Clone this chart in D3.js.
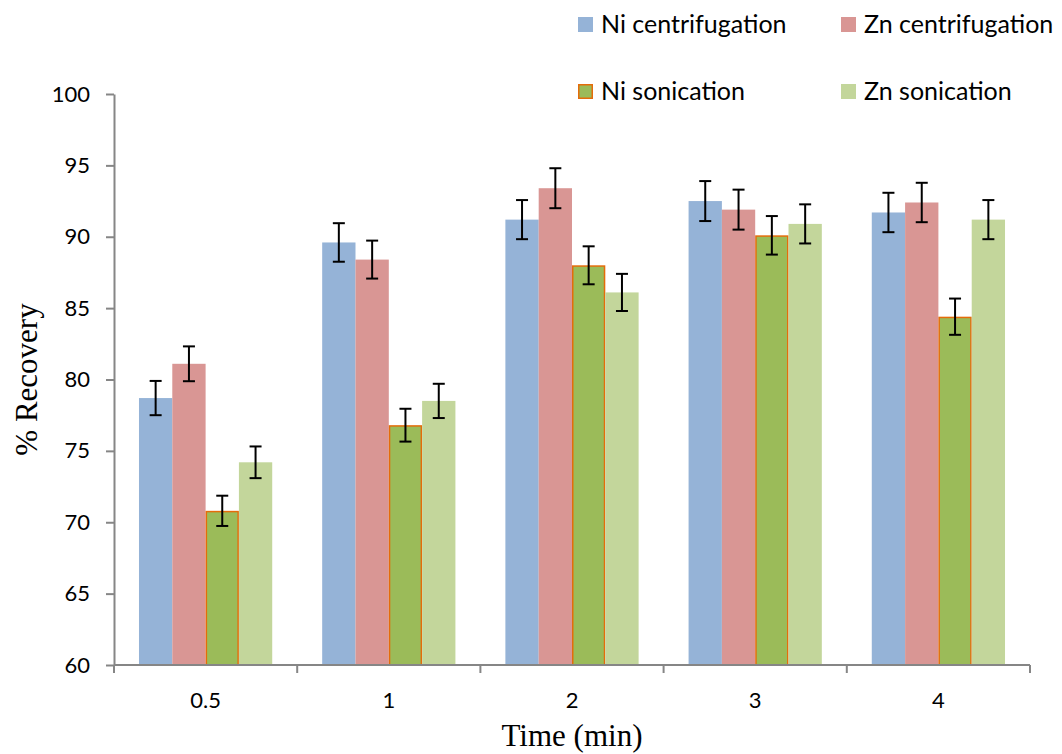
<!DOCTYPE html>
<html><head><meta charset="utf-8">
<script src="https://cdn.jsdelivr.net/npm/d3@7"></script>
<style>body{margin:0;background:#fff}svg{display:block}</style>
</head><body>
<svg id="c" width="1062" height="754"></svg>
<script>
const categories = ["0.5", "1", "2", "3", "4"];
const seriesNames = ["Ni centrifugation", "Zn centrifugation", "Ni sonication", "Zn sonication"];
const niCentrifugation = [78.7, 89.6, 91.2, 92.5, 91.7];
const znCentrifugation = [81.1, 88.4, 93.4, 91.9, 92.4];
const niSonication     = [70.8, 76.8, 88.0, 90.1, 84.4];
const znSonication     = [74.2, 78.5, 86.1, 90.9, 91.2];
const niCentrifugationErr = [1.2, 1.35, 1.37, 1.4, 1.38];
const znCentrifugationErr = [1.22, 1.33, 1.4, 1.4, 1.38];
const niSonicationErr     = [1.06, 1.15, 1.33, 1.35, 1.27];
const znSonicationErr     = [1.11, 1.2, 1.3, 1.37, 1.37];
const yTicks = [60, 65, 70, 75, 80, 85, 90, 95, 100];

(function () {
const values = [niCentrifugation, znCentrifugation, niSonication, znSonication];
const errs = [niCentrifugationErr, znCentrifugationErr, niSonicationErr, znSonicationErr];
const fills = ["#95B3D7", "#D99694", "#9BBB59", "#C3D69B"];
const strokes = [null, null, "#E46C0A", null];

const svg = d3.select("#c");
const mLeft = 114, mRight = 1030, mTop = 94, mBottom = 665;
const x0 = d3.scaleBand().domain(categories).range([mLeft, mRight]).paddingInner(0).paddingOuter(0);
const x1 = d3.scaleBand().domain(seriesNames).range([0, x0.bandwidth()]).paddingInner(0).paddingOuter(0.75);
const y = d3.scaleLinear().domain([60, 100]).range([mBottom, mTop]);

const axisColor = "#868686";
const sans = "Lato, 'Open Sans', sans-serif";
const serif = "'Liberation Serif', 'Times New Roman', serif";

const data = [];
categories.forEach((c, i) => seriesNames.forEach((s, j) => data.push({c, s, j, v: values[j][i], e: errs[j][i]})));
const g = svg.append("g");
g.selectAll("rect").data(data).enter().append("rect")
  .attr("x", d => x0(d.c) + x1(d.s) + (strokes[d.j] ? 0.75 : 0))
  .attr("y", d => y(d.v) + (strokes[d.j] ? 0.75 : 0))
  .attr("width", d => x1.bandwidth() - (strokes[d.j] ? 1.5 : 0))
  .attr("height", d => y(60) - y(d.v) - (strokes[d.j] ? 0.75 : 0))
  .attr("fill", d => fills[d.j])
  .attr("stroke", d => strokes[d.j] || "none")
  .attr("stroke-width", 1.5);

const eb = svg.append("g").attr("stroke", "#000").attr("stroke-width", 2).attr("fill", "none");
data.forEach(d => {
  const cx = x0(d.c) + x1(d.s) + x1.bandwidth() / 2;
  const yt = y(d.v + d.e), yb = y(d.v - d.e);
  eb.append("line").attr("x1", cx).attr("x2", cx).attr("y1", yt).attr("y2", yb);
  eb.append("line").attr("x1", cx - 6).attr("x2", cx + 6).attr("y1", yt).attr("y2", yt);
  eb.append("line").attr("x1", cx - 6).attr("x2", cx + 6).attr("y1", yb).attr("y2", yb);
});

const yAxis = svg.append("g").attr("transform", `translate(${mLeft},0)`)
  .call(d3.axisLeft(y).tickValues(yTicks).tickSize(8).tickPadding(16).tickSizeOuter(0));
yAxis.select(".domain").attr("stroke", axisColor).attr("stroke-width", 2);
yAxis.selectAll(".tick line").attr("stroke", axisColor).attr("stroke-width", 2);
yAxis.selectAll(".tick text").attr("font-family", sans).attr("font-size", 22).attr("fill", "#000");

const xAxis = svg.append("g").attr("transform", `translate(0,${mBottom})`)
  .call(d3.axisBottom(x0).tickSize(0).tickPadding(27));
xAxis.select(".domain").attr("stroke", axisColor).attr("stroke-width", 2).attr("d", `M${mLeft},0H${mRight}`);
xAxis.selectAll(".tick text").attr("font-family", sans).attr("font-size", 22).attr("fill", "#000");
const bounds = categories.map(c => x0(c)).concat([mRight]);
xAxis.selectAll(".bt").data(bounds).enter().append("line").attr("class", "bt")
  .attr("x1", d => d).attr("x2", d => d).attr("y1", 0).attr("y2", 8)
  .attr("stroke", axisColor).attr("stroke-width", 2);

svg.append("text").attr("x", (mLeft + mRight) / 2).attr("y", 746).attr("text-anchor", "middle")
  .attr("font-family", serif).attr("font-size", 31).text("Time (min)");
svg.append("text").attr("transform", `translate(37,${(mTop + mBottom) / 2}) rotate(-90)`).attr("text-anchor", "middle")
  .attr("font-family", serif).attr("font-size", 31).text("% Recovery");

const legendPos = [[578, 17], [841, 17], [578, 84], [841, 84]];
seriesNames.forEach((s, j) => {
  const [lx, ly] = legendPos[j];
  const lg = svg.append("g");
  lg.append("rect").attr("x", lx + (strokes[j] ? 0.75 : 0)).attr("y", ly + (strokes[j] ? 0.75 : 0))
    .attr("width", 15 - (strokes[j] ? 1.5 : 0)).attr("height", 15 - (strokes[j] ? 1.5 : 0))
    .attr("fill", fills[j]).attr("stroke", strokes[j] || "none").attr("stroke-width", 1.5);
  lg.append("text").attr("x", lx + 23).attr("y", ly + 16).attr("font-family", sans)
    .attr("font-size", 25).attr("fill", "#000").text(s);
});
})();
</script>
</body></html>
